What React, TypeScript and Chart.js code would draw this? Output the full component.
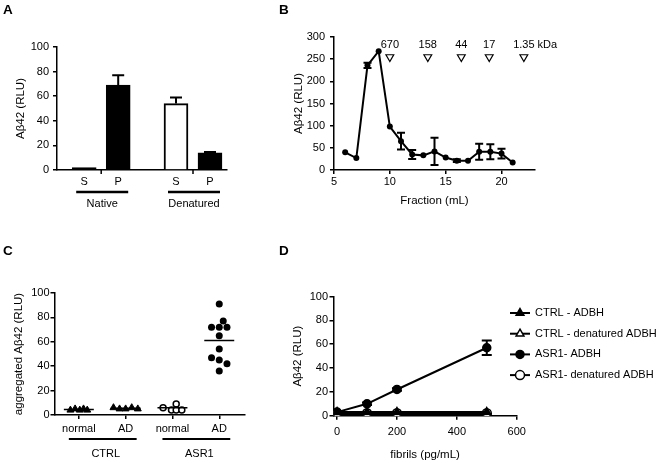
import React, { useEffect, useRef } from 'react';
import { Chart, registerables } from 'chart.js';
import { drawPoint } from 'chart.js/helpers';

Chart.register(...registerables);

const FONT_FAMILY = "'Liberation Sans', Arial, Helvetica, sans-serif";
const TICK_FONT = { family: FONT_FAMILY, size: 11 };
const TITLE_FONT = { family: FONT_FAMILY, size: 11.5 };

// ---------------- Panel A ----------------
const aLabels = ['S', 'P', 'S', 'P'];
const aSlots = [1, 2, 3.7, 4.7];
const aValues = [2, 69, 54, 14];
const aErrors = [0, 8, 5, 0.6];
const aFills = ['#000000', '#000000', '#ffffff', '#000000'];
const aGroupNames = ['Native', 'Denatured'];
const aGroupSlots = [[1, 2], [3.7, 4.7]];
const aTickSlots = [1.5, 4.2];

// ---------------- Panel B ----------------
const bFractions = [6, 7, 8, 9, 10, 11, 12, 13, 14, 15, 16, 17, 18, 19, 20, 21];
const bValues = [40, 27, 236, 268, 98, 65, 35, 33, 42, 28, 21, 21, 41, 41, 37, 17];
const bErrors = [0, 0, 6, 0, 0, 19, 10, 0, 31, 0, 3, 0, 18, 17, 11, 0];
const bXTicks = [5, 10, 15, 20];
const bMarkerFractions = [10, 13.4, 16.4, 18.9, 22];
const bMarkerLabels = ['670', '158', '44', '17', '1.35 kDa'];

// ---------------- Panel C ----------------
const cCategories = ['normal', 'AD', 'normal', 'AD'];
const cGroupNames = ['CTRL', 'ASR1'];
const cGroupSlots = [[0, 1], [2, 3]];
const cCtrlNormalOffsets = [-0.18, -0.08, 0.02, 0.1, 0.18];
const cCtrlNormalValues = [4, 5, 4, 5, 4];
const cCtrlADOffsets = [-0.26, -0.13, 0, 0.13, 0.26];
const cCtrlADValues = [6, 5, 5, 6, 5];
const cAsrNormalOffsets = [-0.2, -0.02, 0.08, 0.08, 0.2];
const cAsrNormalValues = [6, 4, 9, 4, 4];
const cAsrADOffsets = [0, 0.085, -0.165, 0, 0.165, 0, 0, -0.165, 0, 0.165, 0];
const cAsrADValues = [91, 77, 72, 72, 72, 65, 54, 47, 45, 42, 36];
const cMeans = [4.5, 5.5, 6, 61];

// ---------------- Panel D ----------------
const dFibrils = [0, 100, 200, 500];
const dCtrlADBH = [3, 3, 3, 3];
const dCtrlDenatured = [1, 1, 1, 1];
const dAsrADBH = [3, 10, 22, 57];
const dAsrADBHErr = [0, 1, 1, 6];
const dAsrDenatured = [2, 2, 2, 2];
const dLegend = ['CTRL - ADBH', 'CTRL - denatured ADBH', 'ASR1- ADBH', 'ASR1- denatured ADBH'];
const dXTicks = [0, 200, 400, 600];

// ---------------- helpers ----------------
function yAxis(min: number, max: number, step: number, title: string, width: number, pad: number) {
  return {
    type: 'linear',
    position: 'left',
    min,
    max,
    ticks: { stepSize: step, font: TICK_FONT, color: '#000', padding: pad },
    grid: { drawOnChartArea: false, drawTicks: true, tickLength: 4, color: '#000', lineWidth: 1.5 },
    border: { color: '#000', width: 1.5 },
    title: { display: true, text: title, font: TITLE_FONT, color: '#000', padding: 0 },
    afterFit: (s: any) => {
      s.width = width;
    },
  };
}

function xAxis(opts: {
  min: number;
  max: number;
  ticks: number[];
  labels?: string[];
  height: number;
  pad: number;
  title?: string;
  tickMarks: boolean;
}) {
  return {
    type: 'linear',
    position: 'bottom',
    offset: false,
    min: opts.min,
    max: opts.max,
    afterBuildTicks: (s: any) => {
      s.ticks = opts.ticks.map((v) => ({ value: v }));
    },
    ticks: {
      font: TICK_FONT,
      color: '#000',
      padding: opts.pad,
      autoSkip: false,
      maxRotation: 0,
      minRotation: 0,
      callback: (v: any, i: number) => (opts.labels ? opts.labels[i] : String(v)),
    },
    grid: {
      display: opts.tickMarks,
      offset: false,
      drawOnChartArea: false,
      drawTicks: opts.tickMarks,
      tickLength: 4,
      color: '#000',
      lineWidth: 1.5,
    },
    border: { color: '#000', width: 1.5 },
    title: opts.title
      ? { display: true, text: opts.title, font: TITLE_FONT, color: '#000', padding: 0 }
      : { display: false },
    afterFit: (s: any) => {
      s.height = opts.height;
    },
  };
}

function errBar(ctx: CanvasRenderingContext2D, x: number, y0: number, y1: number, cap: number) {
  ctx.beginPath();
  ctx.moveTo(x, y0);
  ctx.lineTo(x, y1);
  ctx.moveTo(x - cap, y1);
  ctx.lineTo(x + cap, y1);
  ctx.stroke();
}

function baseOptions(padding: any) {
  return {
    responsive: false,
    animation: false,
    devicePixelRatio: 1,
    layout: { padding },
    plugins: { legend: { display: false }, tooltip: { enabled: false } },
    events: [],
  };
}

// ---------------- configs ----------------
function configA() {
  const plugin = {
    id: 'panelA',
    afterDatasetsDraw(chart: any) {
      const { ctx, chartArea } = chart;
      const x = chart.scales.x;
      const y = chart.scales.y;
      ctx.save();
      ctx.strokeStyle = '#000';
      ctx.lineWidth = 2;
      aSlots.forEach((s, i) => {
        if (!aErrors[i]) return;
        const px = x.getPixelForValue(s);
        errBar(ctx, px, y.getPixelForValue(aValues[i]), y.getPixelForValue(aValues[i] + aErrors[i]), 6);
      });
      ctx.lineWidth = 1.5;
      aTickSlots.forEach((s) => {
        const px = x.getPixelForValue(s);
        ctx.beginPath();
        ctx.moveTo(px, chartArea.bottom);
        ctx.lineTo(px, chartArea.bottom + 4);
        ctx.stroke();
      });
      ctx.lineWidth = 2.5;
      ctx.fillStyle = '#000';
      ctx.font = `${TICK_FONT.size}px ${FONT_FAMILY}`;
      ctx.textAlign = 'center';
      ctx.textBaseline = 'middle';
      aGroupSlots.forEach(([s0, s1], g) => {
        const x0 = x.getPixelForValue(s0) - 8;
        const x1 = x.getPixelForValue(s1) + 10;
        const ly = chartArea.bottom + 22;
        ctx.beginPath();
        ctx.moveTo(x0, ly);
        ctx.lineTo(x1, ly);
        ctx.stroke();
        ctx.fillText(aGroupNames[g], (x0 + x1) / 2, chartArea.bottom + 34);
      });
      ctx.restore();
    },
  };
  return {
    type: 'bar',
    data: {
      datasets: [
        {
          data: aSlots.map((s, i) => ({ x: s, y: aValues[i] })),
          backgroundColor: aFills,
          borderColor: '#000',
          borderWidth: 2,
          borderSkipped: 'bottom',
          barThickness: 24,
        },
      ],
    },
    options: {
      ...baseOptions({ left: 14, top: 47, right: 103, bottom: 40 }),
      scales: {
        x: xAxis({ min: 0.2, max: 5.2, ticks: aSlots, labels: aLabels, height: 20, pad: 5, tickMarks: false }),
        y: yAxis(0, 100, 20, 'Aβ42 (RLU)', 43, 4),
      },
    },
    plugins: [plugin],
  };
}

function configB() {
  const plugin = {
    id: 'panelB',
    afterDatasetsDraw(chart: any) {
      const { ctx, chartArea } = chart;
      const x = chart.scales.x;
      const y = chart.scales.y;
      ctx.save();
      ctx.strokeStyle = '#000';
      ctx.lineWidth = 2;
      bFractions.forEach((f, i) => {
        if (!bErrors[i]) return;
        const px = x.getPixelForValue(f);
        errBar(ctx, px, y.getPixelForValue(bValues[i]), y.getPixelForValue(bValues[i] + bErrors[i]), 4);
        errBar(ctx, px, y.getPixelForValue(bValues[i]), y.getPixelForValue(bValues[i] - bErrors[i]), 4);
      });
      ctx.font = `${TICK_FONT.size}px ${FONT_FAMILY}`;
      ctx.textBaseline = 'middle';
      ctx.fillStyle = '#000';
      bMarkerFractions.forEach((f, i) => {
        const px = x.getPixelForValue(f);
        ctx.fillStyle = '#fff';
        ctx.strokeStyle = '#000';
        ctx.lineWidth = 1.2;
        drawPoint(ctx, { pointStyle: 'triangle', radius: 4.5, rotation: 180, borderWidth: 1.2 }, px, chartArea.top + 20);
        ctx.fillStyle = '#000';
        const label = bMarkerLabels[i];
        const head = label.split(' ')[0];
        ctx.textAlign = 'left';
        ctx.fillText(label, px - ctx.measureText(head).width / 2, chartArea.top + 8);
      });
      ctx.restore();
    },
  };
  return {
    type: 'line',
    data: {
      datasets: [
        {
          data: bFractions.map((f, i) => ({ x: f, y: bValues[i] })),
          borderColor: '#000',
          borderWidth: 2,
          pointRadius: 3,
          pointBackgroundColor: '#000',
          pointBorderColor: '#000',
          pointBorderWidth: 0,
          tension: 0,
        },
      ],
    },
    options: {
      ...baseOptions({ left: 11.5, top: 37, right: 126, bottom: 22 }),
      scales: {
        x: xAxis({ min: 5, max: 23, ticks: bXTicks, height: 38, pad: 1.5, title: 'Fraction (mL)', tickMarks: true }),
        y: yAxis(0, 300, 50, 'Aβ42 (RLU)', 42.5, 5),
      },
    },
    plugins: [plugin],
  };
}

function configC() {
  const plugin = {
    id: 'panelC',
    afterDraw(chart: any) {
      const { ctx, chartArea } = chart;
      const x = chart.scales.x;
      ctx.save();
      ctx.strokeStyle = '#000';
      ctx.lineWidth = 2;
      ctx.fillStyle = '#000';
      ctx.font = `${TICK_FONT.size}px ${FONT_FAMILY}`;
      ctx.textAlign = 'center';
      ctx.textBaseline = 'middle';
      cGroupSlots.forEach(([s0, s1], g) => {
        const x0 = x.getPixelForValue(s0) - 10;
        const x1 = x.getPixelForValue(s1) + 11;
        const ly = chartArea.bottom + 24;
        ctx.beginPath();
        ctx.moveTo(x0, ly);
        ctx.lineTo(x1, ly);
        ctx.stroke();
        ctx.fillText(cGroupNames[g], (x0 + x1) / 2 + 3, chartArea.bottom + 39);
      });
      ctx.restore();
    },
  };
  const pts = (offs: number[], vals: number[], slot: number) => offs.map((o, i) => ({ x: slot + o, y: vals[i] }));
  const meanLine = (slot: number) => ({
    type: 'line',
    data: [
      { x: slot - 0.32, y: cMeans[slot] },
      { x: slot + 0.32, y: cMeans[slot] },
    ],
    borderColor: '#000',
    borderWidth: 1.5,
    pointRadius: 0,
    showLine: true,
  });
  return {
    type: 'scatter',
    data: {
      datasets: [
        meanLine(0),
        meanLine(1),
        meanLine(2),
        meanLine(3),
        {
          data: pts(cCtrlNormalOffsets, cCtrlNormalValues, 0),
          pointStyle: 'triangle',
          pointRadius: 4,
          backgroundColor: '#000',
          borderColor: '#000',
          pointBorderWidth: 1,
        },
        {
          data: pts(cCtrlADOffsets, cCtrlADValues, 1),
          pointStyle: 'triangle',
          pointRadius: 4,
          backgroundColor: '#000',
          borderColor: '#000',
          pointBorderWidth: 1,
        },
        {
          data: pts(cAsrNormalOffsets, cAsrNormalValues, 2),
          pointStyle: 'circle',
          pointRadius: 3,
          backgroundColor: '#fff',
          borderColor: '#000',
          pointBorderWidth: 1.5,
        },
        {
          data: pts(cAsrADOffsets, cAsrADValues, 3),
          pointStyle: 'circle',
          pointRadius: 3.5,
          backgroundColor: '#000',
          borderColor: '#000',
          pointBorderWidth: 0,
        },
      ],
    },
    options: {
      ...baseOptions({ left: 11.5, top: 63, right: 85, bottom: 28 }),
      scales: {
        x: xAxis({ min: -0.52, max: 3.55, ticks: [0, 1, 2, 3], labels: cCategories, height: 20, pad: 3.4, tickMarks: true }),
        y: yAxis(0, 100, 20, 'aggregated Aβ42 (RLU)', 43, 1),
      },
    },
    plugins: [plugin],
  };
}

function configD() {
  const styles = [
    { pointStyle: 'triangle', fill: '#000', radius: 4.5 },
    { pointStyle: 'triangle', fill: '#fff', radius: 4.5 },
    { pointStyle: 'circle', fill: '#000', radius: 4 },
    { pointStyle: 'circle', fill: '#fff', radius: 4.5 },
  ];
  const series = [dCtrlADBH, dCtrlDenatured, dAsrADBH, dAsrDenatured];
  const plugin = {
    id: 'panelD',
    afterDatasetsDraw(chart: any) {
      const { ctx, chartArea } = chart;
      const x = chart.scales.x;
      const y = chart.scales.y;
      ctx.save();
      ctx.strokeStyle = '#000';
      ctx.lineWidth = 2;
      dFibrils.forEach((f, i) => {
        if (!dAsrADBHErr[i]) return;
        const px = x.getPixelForValue(f);
        errBar(ctx, px, y.getPixelForValue(dAsrADBH[i]), y.getPixelForValue(dAsrADBH[i] + dAsrADBHErr[i]), 5);
        errBar(ctx, px, y.getPixelForValue(dAsrADBH[i]), y.getPixelForValue(dAsrADBH[i] - dAsrADBHErr[i]), 5);
      });
      // legend
      ctx.font = `${TICK_FONT.size}px ${FONT_FAMILY}`;
      ctx.textAlign = 'left';
      ctx.textBaseline = 'middle';
      const lx = chartArea.right - 6.7;
      dLegend.forEach((label, i) => {
        const ly = chartArea.top + 16.5 + i * 20.7;
        ctx.strokeStyle = '#000';
        ctx.lineWidth = 2;
        ctx.beginPath();
        ctx.moveTo(lx, ly);
        ctx.lineTo(lx + 20, ly);
        ctx.stroke();
        ctx.fillStyle = styles[i].fill;
        ctx.lineWidth = 1.5;
        drawPoint(ctx, { pointStyle: styles[i].pointStyle, radius: styles[i].radius, rotation: 0, borderWidth: 1.5 }, lx + 10, ly);
        ctx.fillStyle = '#000';
        ctx.fillText(label, lx + 25, ly);
      });
      ctx.restore();
    },
  };
  return {
    type: 'line',
    data: {
      datasets: series.map((vals, k) => ({
        label: dLegend[k],
        data: dFibrils.map((f, i) => ({ x: f, y: vals[i] })),
        borderColor: '#000',
        borderWidth: 2,
        pointStyle: styles[k].pointStyle,
        pointRadius: styles[k].radius,
        pointBackgroundColor: styles[k].fill,
        pointBorderColor: '#000',
        pointBorderWidth: 1.5,
        tension: 0,
      })),
    },
    options: {
      ...baseOptions({ left: 10.5, top: 66.5, right: 144.3, bottom: 1 }),
      scales: {
        x: xAxis({ min: -12, max: 600, ticks: dXTicks, height: 46.3, pad: 5.7, title: 'fibrils (pg/mL)', tickMarks: true }),
        y: yAxis(0, 100, 20, 'Aβ42 (RLU)', 43, 1.5),
      },
    },
    plugins: [plugin],
  };
}

function ChartCanvas(props: { make: () => any; left: number; top: number; width: number; height: number }) {
  const ref = useRef<HTMLCanvasElement>(null);
  useEffect(() => {
    const chart = new Chart(ref.current as HTMLCanvasElement, props.make());
    return () => chart.destroy();
  }, []);
  return (
    <canvas
      ref={ref}
      width={props.width}
      height={props.height}
      style={{ position: 'absolute', left: props.left, top: props.top, width: props.width, height: props.height }}
    />
  );
}

const letterStyle = (left: number, top: number): React.CSSProperties => ({
  position: 'absolute',
  left,
  top,
  fontFamily: FONT_FAMILY,
  fontWeight: 'bold',
  fontSize: 13.5,
  lineHeight: '13.5px',
  color: '#000',
});

export default function App() {
  return (
    <div style={{ position: 'fixed', left: 0, top: 0, width: 661, height: 463, background: '#fff', overflow: 'hidden' }}>
      <ChartCanvas make={configA} left={0} top={0} width={330} height={230} />
      <ChartCanvas make={configB} left={280} top={0} width={381} height={230} />
      <ChartCanvas make={configC} left={0} top={230} width={330} height={233} />
      <ChartCanvas make={configD} left={280} top={230} width={381} height={233} />
      <div style={letterStyle(3, 3)}>A</div>
      <div style={letterStyle(279, 3)}>B</div>
      <div style={letterStyle(3, 244)}>C</div>
      <div style={letterStyle(279, 244)}>D</div>
    </div>
  );
}
